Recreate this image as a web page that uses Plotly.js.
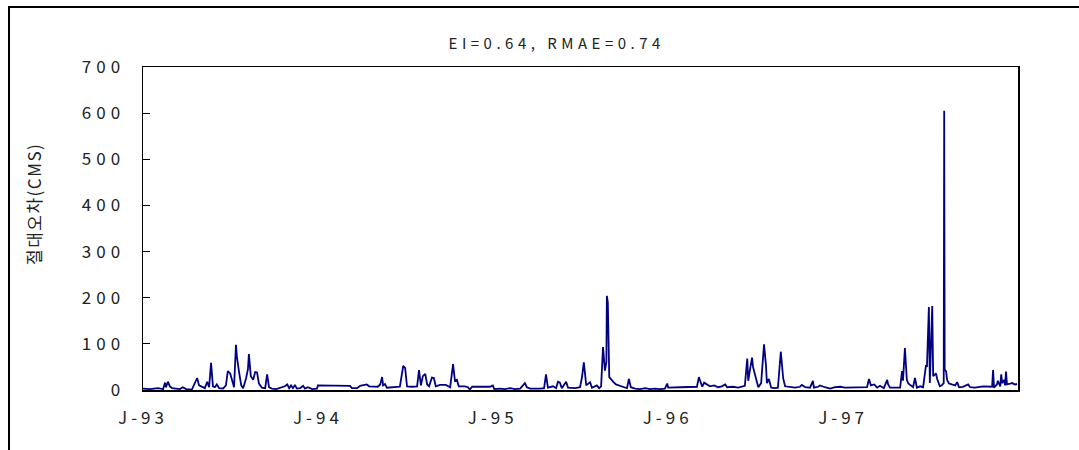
<!DOCTYPE html>
<html>
<head>
<meta charset="utf-8">
<script src="https://cdn.plot.ly/plotly-3.0.1.min.js"></script>
<style>
  html, body { margin: 0; padding: 0; background: #fff; overflow: hidden; }
  #wrap { position: relative; width: 1079px; height: 450px; }
  #chart { width: 1079px; height: 450px; }
  #frame { position: absolute; left: 8px; top: 6px; width: 1200px; height: 600px;
           border-top: 2px solid #000; border-left: 2px solid #000; pointer-events: none; }
  .xtick text { letter-spacing: 4px; }
  .ytick text { letter-spacing: 5px; }
  .gtitle { letter-spacing: 4.5px; }
  .annotation-text { letter-spacing: 1.5px; }
</style>
</head>
<body>
<div id="wrap">
  <div id="chart"></div>
  <div id="frame"></div>
</div>
<script>
// Day of record (days since 1993-01-01) and absolute error (CMS)
const dayIndex = [0,15,31,42,46,48,52,56,61,69,77,83,90,102,113,117,125,129,134,138,142,146,150,154,159,167,173,177,182,186,190,194,196,200,205,209,215,219,221,225,230,234,238,242,248,255,259,263,269,278,286,296,301,305,309,313,317,321,328,334,338,344,353,359,363,365,390,411,422,432,436,447,453,467,472,490,495,499,501,505,509,526,536,543,547,551,561,572,576,580,584,589,593,597,603,607,611,620,632,641,647,651,655,659,672,678,682,687,724,730,733,745,755,766,776,787,797,801,808,829,837,841,845,856,862,866,870,874,883,887,902,912,916,920,925,933,937,947,952,956,960,964,967,968,970,973,977,981,987,996,1004,1010,1014,1018,1027,1037,1048,1058,1069,1079,1089,1094,1096,1121,1142,1156,1160,1167,1171,1177,1183,1192,1200,1208,1215,1219,1231,1242,1252,1256,1261,1263,1267,1271,1273,1277,1281,1284,1290,1296,1300,1302,1306,1311,1319,1325,1331,1336,1340,1350,1361,1371,1375,1382,1392,1398,1400,1409,1413,1423,1434,1444,1455,1465,1476,1496,1511,1515,1519,1526,1532,1538,1546,1553,1555,1559,1580,1584,1586,1590,1594,1597,1603,1607,1611,1615,1622,1628,1634,1636,1640,1642,1647,1649,1655,1657,1663,1667,1671,1672,1673,1676,1678,1682,1688,1695,1699,1703,1711,1722,1726,1736,1747,1753,1772,1774,1776,1782,1784,1789,1791,1793,1797,1799,1801,1803,1807,1814,1820,1824];
const absError = [3,2,4,2,16,6,18,8,4,3,2,6,2,1,26,10,6,4,18,6,59,8,6,12,4,3,10,41,36,18,6,98,72,42,10,4,25,45,78,30,22,39,38,14,5,4,34,6,3,2,4,8,12,4,10,4,11,3,4,9,3,6,2,2,3,10,10,9,10,9,4,4,9,12,8,7,12,28,10,13,5,6,7,52,48,8,7,8,43,10,30,35,12,8,27,26,8,11,11,6,56,20,22,8,8,6,1,7,7,10,2,3,2,4,2,3,15,6,3,3,4,34,5,8,4,18,16,4,18,5,4,6,27,60,10,17,5,10,4,8,93,42,60,204,190,28,22,18,12,8,6,4,24,6,3,2,4,2,3,2,3,14,5,6,6,7,28,7,16,12,8,10,6,8,12,6,7,5,8,9,68,20,46,70,50,33,22,6,15,99,54,15,24,5,4,5,83,25,8,6,5,7,11,6,5,20,5,7,10,6,3,6,7,5,5,5,6,24,10,12,5,9,4,22,12,5,5,41,20,91,22,14,8,6,26,5,8,6,54,50,180,15,182,30,36,25,8,10,15,605,45,40,22,14,12,10,17,6,7,12,6,5,7,8,7,43,5,12,20,8,34,15,22,10,40,12,13,15,12,13];
const tickDates = ['1993-01-01','1994-01-01','1995-01-01','1996-01-01','1997-01-01'];
const tickLabels = ['J-93','J-94','J-95','J-96','J-97'];
const chartTitle = 'EI=0.64, RMAE=0.74';
const yTitle = '절대오차(CMS)';

const base = Date.UTC(1993, 0, 1);
const dates = dayIndex.map(d => new Date(base + d * 86400000).toISOString().slice(0, 10));

const font = 'Noto Sans CJK KR, Liberation Sans, sans-serif';

Plotly.newPlot('chart', [{
  x: dates,
  y: absError,
  type: 'scatter',
  mode: 'lines',
  line: { color: '#000080', width: 1.8 },
  hoverinfo: 'x+y'
}], {
  width: 1079, height: 450,
  margin: { l: 143, r: 61, t: 67, b: 60 },
  paper_bgcolor: '#fff', plot_bgcolor: '#fff',
  showlegend: false,
  title: { text: chartTitle, font: { family: font, size: 15, color: '#222' },
           xref: 'container', x: 0.516, xanchor: 'center', yref: 'container', y: 0.902, yanchor: 'middle' },
  xaxis: {
    type: 'date', range: ['1993-01-01', '1998-01-01'],
    tickvals: tickDates, ticktext: tickLabels, ticks: '',
    showgrid: false, zeroline: false,
    showline: true, linecolor: '#000', linewidth: 1.5, mirror: true,
    tickfont: { family: font, size: 17, color: '#222' },
    ticklabelstandoff: 12
  },
  yaxis: {
    range: [0, 700], dtick: 100, tick0: 0,
    ticks: 'inside', ticklen: 7, tickcolor: '#000', tickwidth: 1,
    showgrid: false, zeroline: false,
    showline: true, linecolor: '#000', linewidth: 1.5, mirror: true,
    tickfont: { family: font, size: 17, color: '#222' },
    ticklabelstandoff: 13
  },
  annotations: [{
    text: yTitle, xref: 'paper', yref: 'paper',
    x: (33 - 143) / 875, y: (390 - 204) / 323,
    xanchor: 'center', yanchor: 'middle', textangle: -90, showarrow: false,
    font: { family: font, size: 17, color: '#222' }
  }]
}, { displayModeBar: false, staticPlot: true });
</script>
</body>
</html>
